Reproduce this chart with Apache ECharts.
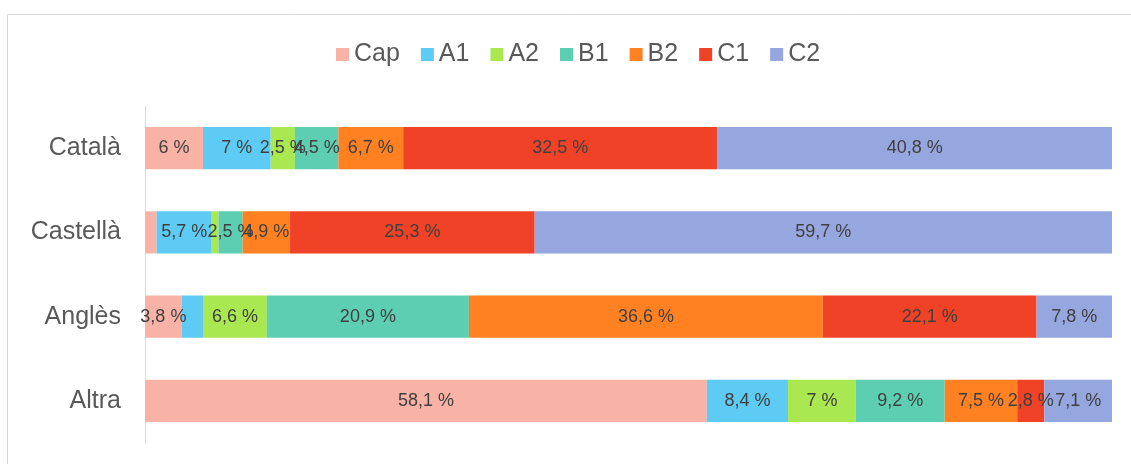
<!DOCTYPE html>
<html>
<head>
    <meta charset="utf-8">
    <title>Nivell de llengua</title>
    <script src="https://cdn.jsdelivr.net/npm/echarts@6/dist/echarts.min.js"></script>
    <style>
        body { margin: 0; background: #fff; }
        #main { width: 1131px; height: 464px; }
    </style>
</head>
<body>
<div id="main"></div>
<script>
    // dades
    var categories = ['Català', 'Castellà', 'Anglès', 'Altra'];
    var levels = ['Cap', 'A1', 'A2', 'B1', 'B2', 'C1', 'C2'];
    var cap = [6, 1.2, 3.8, 58.1];
    var a1 = [7, 5.7, 2.2, 8.4];
    var a2 = [2.5, 0.7, 6.6, 7];
    var b1 = [4.5, 2.5, 20.9, 9.2];
    var b2 = [6.7, 4.9, 36.6, 7.5];
    var c1 = [32.5, 25.3, 22.1, 2.8];
    var c2 = [40.8, 59.7, 7.8, 7.1];
    var values = [cap, a1, a2, b1, b2, c1, c2];
    var colors = ['#F8B2A6', '#5DCBF4', '#A9E850', '#5ECEB2', '#FF8122', '#F04226', '#96A6DE'];

    var font = 'Liberation Sans, Arial, sans-serif';
    var myChart = echarts.init(document.getElementById('main'));

    var series = levels.map(function (name, i) {
        return {
            name: name,
            type: 'bar',
            stack: 'total',
            barCategoryGap: '50%',
            itemStyle: {color: colors[i]},
            label: {
                show: true,
                position: 'inside',
                color: '#404040',
                fontSize: 18,
                fontFamily: font,
                formatter: function (p) {
                    // les etiquetes dels trams molt petits no es mostren
                    if (p.value < 2.4) return '';
                    return String(p.value).replace('.', ',') + ' %';
                }
            },
            data: values[i]
        };
    });

    var option = {
        animation: false,
        graphic: [{
            type: 'rect',
            shape: {x: 7.5, y: 14.5, width: 1140, height: 470},
            style: {fill: null, stroke: '#d9d9d9', lineWidth: 1},
            silent: true
        }],
        legend: {
            data: levels,
            top: 37,
            left: 331,
            icon: 'rect',
            itemWidth: 13,
            itemHeight: 13,
            itemGap: 21,
            textStyle: {
                color: '#595959',
                fontSize: 25,
                fontFamily: font
            }
        },
        grid: {
            left: 145,
            right: 19,
            top: 106,
            bottom: 21,
            containLabel: false
        },
        xAxis: {
            type: 'value',
            min: 0,
            max: 100,
            show: false
        },
        yAxis: {
            type: 'category',
            inverse: true,
            data: categories,
            axisLine: {lineStyle: {color: '#d9d9d9', width: 1}},
            axisTick: {show: false},
            axisLabel: {
                color: '#595959',
                fontSize: 25,
                margin: 24,
                fontFamily: font
            }
        },
        series: series
    };

    myChart.setOption(option);
</script>
</body>
</html>
